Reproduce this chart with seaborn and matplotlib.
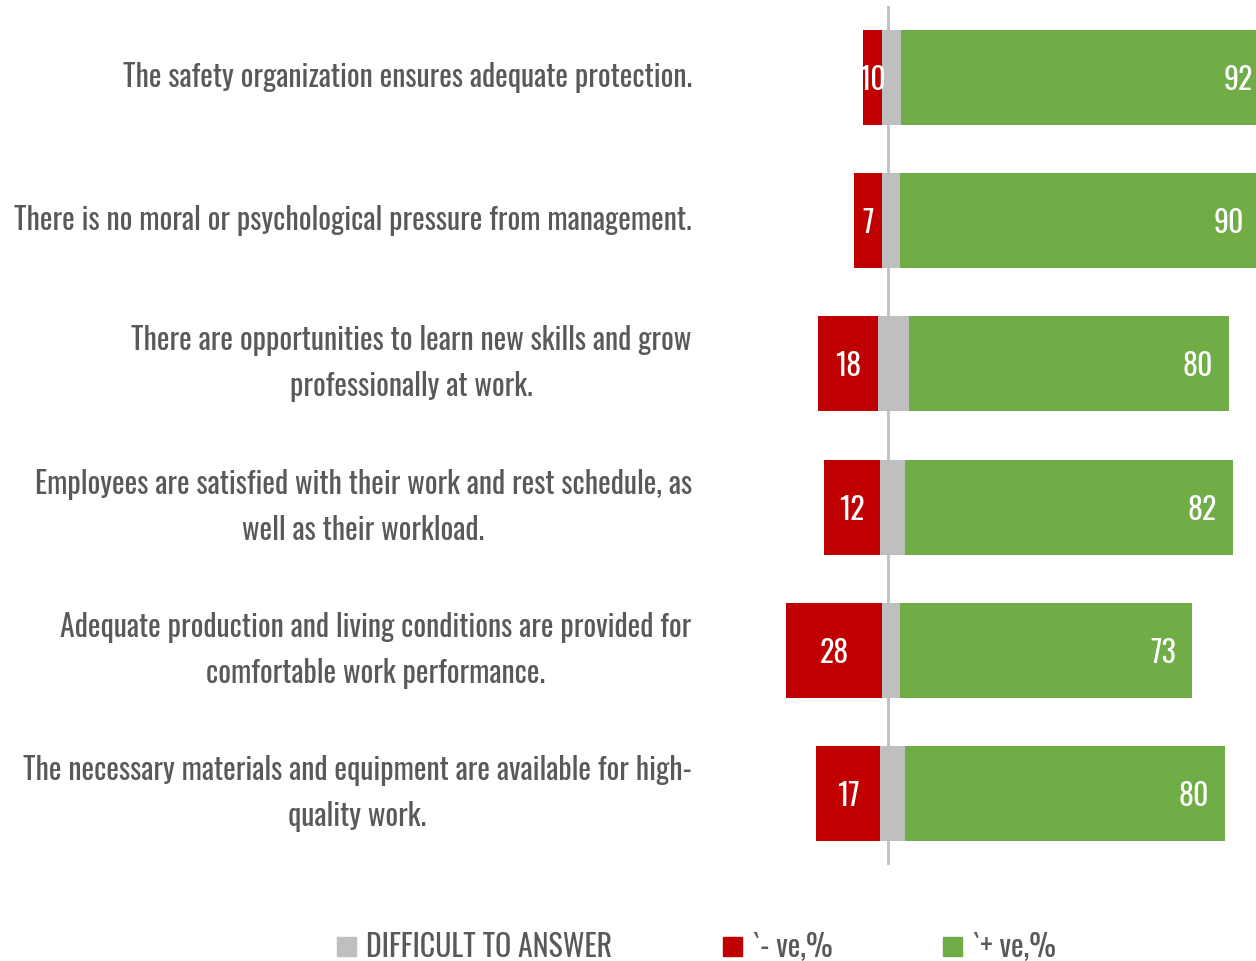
import matplotlib
matplotlib.use("Agg")
import matplotlib.pyplot as plt
from matplotlib import font_manager
from matplotlib.patches import Patch
import seaborn as sns
import pandas as pd

# survey statements, top to bottom
statements = [
    "The safety organization ensures adequate protection.",
    "There is no moral or psychological pressure from management.",
    "There are opportunities to learn new skills and grow\nprofessionally at work.",
    "Employees are satisfied with their work and rest schedule, as\nwell as their workload.",
    "Adequate production and living conditions are provided for\ncomfortable work performance.",
    "The necessary materials and equipment are available for high-\nquality work.",
]
neg_pct = [10, 7, 18, 12, 28, 17]
pos_pct = [92, 90, 80, 82, 73, 80]
# bar lengths as drawn in the original (red bars do not follow their labels)
neg_len = [4.9, 7.2, 15.1, 14.1, 24.1, 16.0]
dk_len = [4.6, 4.5, 7.6, 6.1, 4.5, 6.1]

legend_labels = ["DIFFICULT TO ANSWER", "`- ve,%", "`+ ve,%"]

RED = "#c00000"
GREEN = "#70ad47"
GREY = "#bfbfbf"
TXT = "#595959"

sns.set_theme(style="white")
fonts = font_manager.fontManager.ttflist
names = {f.name for f in fonts}
font = next((n for n in ["Oswald", "Roboto Condensed", "Archivo Narrow", "Asap Condensed"]
             if n in names), "DejaVu Sans")
weights = {f.weight for f in fonts if f.name == font}
fw = 300 if 300 in weights or "light" in weights else "normal"
plt.rcParams["font.family"] = [font, "DejaVu Sans"]
plt.rcParams["font.weight"] = fw

df = pd.DataFrame({
    "statement": statements,
    "neg_end": [-(d / 3 + n) for n, d in zip(neg_len, dk_len)],
    "pos_end": [p + 2 * d / 3 for p, d in zip(pos_pct, dk_len)],
    "dk_left": [-d / 3 for d in dk_len],
    "dk_right": [2 * d / 3 for d in dk_len],
})

fig = plt.figure(figsize=(12.56, 9.61), dpi=100)
ax = fig.add_axes([700 / 1256, 0.0999, 1 - 700 / 1256, 0.8939])

bw = 0.663
for col, c in [("neg_end", RED), ("pos_end", GREEN), ("dk_left", GREY), ("dk_right", GREY)]:
    sns.barplot(data=df, x=col, y="statement", orient="h", color=c,
                saturation=1, width=bw, linewidth=0, ax=ax)

ax.axvline(0, color=GREY, lw=2, zorder=0.5)
ax.set_xlim(-47.1, 91.9)
ax.set_ylim(5.5, -0.5)

fs = 21.5
for i in range(len(statements)):
    ax.text(df["dk_left"][i] - neg_len[i] / 2, i, str(neg_pct[i]), color="white",
            ha="center", va="center_baseline", fontsize=fs)
    ax.text(df["pos_end"][i] - 4, i, str(pos_pct[i]), color="white",
            ha="right", va="center_baseline", fontsize=fs)

ax.set_xlabel("")
ax.set_ylabel("")
ax.set_xticks([])
ax.tick_params(axis="y", length=0, pad=6, labelsize=fs, labelcolor=TXT)
for lab in ax.get_yticklabels():
    lab.set_multialignment("center")
    lab.set_linespacing(1.6)
    lab.set_verticalalignment("center")
sns.despine(ax=ax, left=True, bottom=True)

handles = [Patch(color=GREY), Patch(color=RED), Patch(color=GREEN)]
fig.legend(handles, legend_labels, loc="center", bbox_to_anchor=(0.5545, 0.014),
           ncol=3, frameon=False, fontsize=fs, labelcolor=TXT,
           handlelength=0.64, handleheight=0.64, handletextpad=0.33,
           columnspacing=3.7)

fig.savefig("out.png", dpi=100)
